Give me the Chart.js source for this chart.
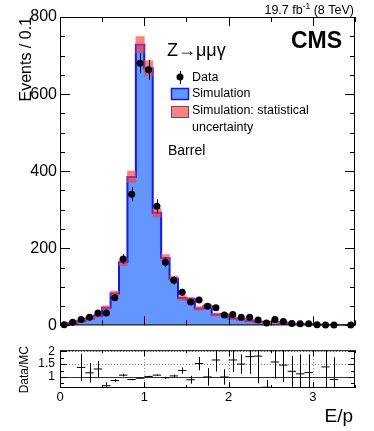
<!DOCTYPE html>
<html>
<head>
    <title>E/p barrel - Z to mu mu gamma</title>
    <meta charset="utf-8" />
    <script src="https://cdn.jsdelivr.net/npm/chart.js@4.4.1/dist/chart.umd.min.js"></script>
    <style>
        body { margin: 0; background: #fff; }
        #wrap { position: relative; width: 374px; height: 431px; }
        #main { position: absolute; left: 0; top: 0; }
        #ratio { position: absolute; left: 0; top: 338px; }
    </style>
</head>
<body>

<div id="wrap">
    <canvas id="main" width="374" height="338"></canvas>
    <canvas id="ratio" width="374" height="93"></canvas>
</div>

<script>
    // bins of 0.1 in E/p
    var binEdges = [0.0, 0.1, 0.2, 0.3, 0.4, 0.5, 0.6, 0.7, 0.8, 0.9, 1.0, 1.1, 1.2, 1.3, 1.4, 1.5, 1.6, 1.7,
                    1.8, 1.9, 2.0, 2.1, 2.2, 2.3, 2.4, 2.5, 2.6, 2.7, 2.8, 2.9, 3.0, 3.1, 3.2, 3.3, 3.4, 3.5];

    // data (black points) and its error
    var dataCounts = [2, 8, 15, 21, 32, 32, 72, 172, 340, 680, 663, 309, 164, 117, 86, 61, 66, 50,
                      46, 27, 28, 21, 21, 14, 6, 15, 10, 5, 4, 4, 2, 1, 1, null, 1];
    var dataErr = [2, 3, 4, 5, 6, 6, 8, 13, 18, 26, 26, 18, 13, 11, 9, 8, 8, 7,
                   7, 5, 5, 5, 5, 4, 3, 4, 3, 2, 2, 2, 1, 1, 1, 0, 1];

    // simulation and its statistical uncertainty
    var mcCounts = [2, 6, 11, 18, 25, 46, 83, 164, 385, 728, 667, 292, 175, 121, 71, 68, 44, 50,
                    28, 27, 18, 15, 12, 9, 9, 9, 7, 4, 3.6, 3.4, 1.5, 1, 1.1, 0.5, 0.3];
    var mcErr = [2, 3, 3, 4, 4, 5, 6, 9, 15, 21, 20, 11, 9, 7, 6, 5, 5, 5,
                 4, 4, 3, 3, 3, 3, 3, 3, 2, 2, 2, 2, 2, 2, 2, 2, 2];

    // Data/MC panel
    var ratioVals = [null, null, 1.37, 1.16, 1.31, 0.66, 0.86, 1.07, 0.90, 0.95, 1.02, 1.07, 0.97, 1.04, 1.25, 0.89, 1.52, 1.00,
                     1.66, 1.00, 1.66, 1.50, 1.79, 1.81, 0.60, 1.58, 1.46, 1.22, 1.12, 1.17, null, 1.39, 0.90, null, null];
    var ratioErr = [0, 0, 0.53, 0.38, 0.31, 0.13, 0.06, 0.05, 0.03, 0.02, 0.02, 0.03, 0.04, 0.05, 0.12, 0.15, 0.26, 0.34,
                    0.45, 0.30, 0.47, 0.38, 0.67, 1.06, 0.28, 0.64, 0.65, 0.60, 0.76, 0.71, 0, 1.5, 0.87, 0, 0];

    var yMainTicks = [0, 200, 400, 600, 800];
    var yRatioTicks = [1, 1.5, 2];
    var xRatioTicks = [0, 1, 2, 3];

    var FONT = '"Liberation Sans", Arial, Helvetica, sans-serif';
    Chart.defaults.font.family = FONT;
    Chart.defaults.color = '#000';

    var MC_FILL = 'rgb(100,150,255)';
    var MC_LINE = 'rgb(20,20,255)';
    var BAND = 'rgba(255,60,60,0.65)';

    function center(i) { return (binEdges[i] + binEdges[i + 1]) / 2; }

    // step outline points for the simulation histogram
    var mcStep = [{x: binEdges[0], y: 0}];
    mcCounts.forEach(function (v, i) { mcStep.push({x: binEdges[i], y: v}); });
    mcStep.push({x: binEdges[binEdges.length - 1], y: mcCounts[mcCounts.length - 1]});
    mcStep.push({x: binEdges[binEdges.length - 1], y: 0});

    var mcBand = mcCounts.map(function (v, i) { return {x: center(i), y: [v - mcErr[i], v + mcErr[i]]}; });
    var dataPts = [];
    dataCounts.forEach(function (v, i) { if (v !== null) dataPts.push({x: center(i), y: v, e: dataErr[i]}); });
    var ratioPts = [];
    ratioVals.forEach(function (v, i) { if (v !== null) ratioPts.push({x: center(i), y: v, e: ratioErr[i]}); });

    function ticksX(ctx, x, a, step, from, to, lenMaj, lenMin) {
        for (var v = from; v <= to + 1e-9; v += step) {
            var px = Math.round(x.getPixelForValue(v)) + 0.5;
            var len = Math.abs(v - Math.round(v)) < 1e-6 ? lenMaj : lenMin;
            ctx.moveTo(px, a.bottom); ctx.lineTo(px, a.bottom - len);
            ctx.moveTo(px, a.top); ctx.lineTo(px, a.top + len);
        }
    }

    var mainDecor = {
        id: 'mainDecor',
        afterDatasetsDraw: function (chart) {
            var ctx = chart.ctx, a = chart.chartArea, x = chart.scales.x, y = chart.scales.y;
            ctx.save();
            ctx.strokeStyle = '#000';
            ctx.lineWidth = 1;
            // data error bars
            ctx.beginPath();
            dataPts.forEach(function (p) {
                var px = Math.round(x.getPixelForValue(p.x)) + 0.5;
                ctx.moveTo(px, y.getPixelForValue(p.y - p.e));
                ctx.lineTo(px, y.getPixelForValue(p.y + p.e));
            });
            ctx.stroke();
            // frame + inward ticks
            ctx.strokeRect(a.left + 0.5, a.top + 0.5, a.right - a.left - 1, a.bottom - a.top - 1);
            ctx.beginPath();
            for (var v = 0; v <= 800; v += 50) {
                var py = Math.round(y.getPixelForValue(v)) + 0.5;
                var len = v % 200 === 0 ? 10 : 5;
                ctx.moveTo(a.left, py); ctx.lineTo(a.left + len, py);
                ctx.moveTo(a.right, py); ctx.lineTo(a.right - len, py);
            }
            ticksX(ctx, x, a, 0.5, 0, 3.5, 9, 5);
            ctx.stroke();
            ctx.restore();
        },
        afterDraw: function (chart) {
            var ctx = chart.ctx;
            ctx.save();
            ctx.fillStyle = '#000';
            ctx.textBaseline = 'alphabetic';

            // lumi label
            var p1 = '19.7 fb', sup = '-1', p2 = ' (8 TeV)';
            ctx.font = '12.5px ' + FONT;
            var w1 = ctx.measureText(p1).width, w3 = ctx.measureText(p2).width;
            ctx.font = '8.5px ' + FONT;
            var w2 = ctx.measureText(sup).width;
            var lx = 354 - (w1 + w2 + w3);
            ctx.font = '12.5px ' + FONT;
            ctx.fillText(p1, lx, 14);
            ctx.fillText(p2, lx + w1 + w2, 14);
            ctx.font = '8.5px ' + FONT;
            ctx.fillText(sup, lx + w1, 9);

            ctx.font = 'bold 23px ' + FONT;
            ctx.textAlign = 'right';
            ctx.fillText('CMS', 342, 48);

            ctx.textAlign = 'left';
            ctx.font = '18px ' + FONT;
            ctx.fillText('Z\u2192\u03bc\u03bc\u03b3', 167, 56);

            // legend
            ctx.beginPath();
            ctx.arc(180, 77, 3.5, 0, Math.PI * 2);
            ctx.fill();
            ctx.beginPath();
            ctx.moveTo(180.5, 71); ctx.lineTo(180.5, 84);
            ctx.lineWidth = 1; ctx.strokeStyle = '#000'; ctx.stroke();

            ctx.fillStyle = MC_FILL;
            ctx.fillRect(171, 88, 18, 12);
            ctx.strokeStyle = MC_LINE; ctx.lineWidth = 1.5;
            ctx.strokeRect(171.5, 88.5, 17, 11);

            ctx.fillStyle = BAND;
            ctx.fillRect(171, 106, 18, 12);
            ctx.strokeStyle = '#7a4a4a'; ctx.lineWidth = 1;
            ctx.strokeRect(171.5, 106.5, 17, 11);

            ctx.fillStyle = '#000';
            ctx.font = '12.5px ' + FONT;
            ctx.textBaseline = 'middle';
            ctx.fillText('Data', 192, 78);
            ctx.fillText('Simulation', 192, 94);
            ctx.fillText('Simulation: statistical', 192, 111);
            ctx.fillText('uncertainty', 192, 128);

            ctx.textBaseline = 'alphabetic';
            ctx.font = '14px ' + FONT;
            ctx.fillText('Barrel', 168, 155);

            // y title
            ctx.font = '16px ' + FONT;
            ctx.translate(31, 17);
            ctx.rotate(-Math.PI / 2);
            ctx.textAlign = 'right';
            ctx.fillText('Events / 0.1', 0, 0);
            ctx.restore();
        }
    };

    var mainChart = new Chart(document.getElementById('main'), {
        type: 'line',
        data: {
            datasets: [{
                type: 'line',
                data: mcStep,
                stepped: 'before',
                fill: 'origin',
                backgroundColor: MC_FILL,
                borderColor: MC_LINE,
                borderWidth: 2,
                pointRadius: 0,
                order: 3
            }, {
                type: 'bar',
                data: mcBand,
                backgroundColor: BAND,
                borderWidth: 0,
                barPercentage: 1,
                categoryPercentage: 1,
                grouped: false,
                order: 2
            }, {
                type: 'scatter',
                data: dataPts,
                pointRadius: 3.5,
                pointBackgroundColor: '#000',
                pointBorderWidth: 0,
                clip: 6,
                order: 1
            }]
        },
        options: {
            responsive: false,
            animation: false,
            events: [],
            layout: { padding: { left: 0, top: 17, right: 19, bottom: 11 } },
            plugins: { legend: { display: false }, tooltip: { enabled: false } },
            scales: {
                // the bar dataset would otherwise switch on the category-style half-bin offset
                x: { type: 'linear', min: 0, max: 3.5, offset: false, grid: { offset: false }, display: false },
                y: {
                    min: 0, max: 800,
                    grid: { display: false, drawTicks: false },
                    border: { display: false },
                    afterBuildTicks: function (s) { s.ticks = yMainTicks.map(function (v) { return {value: v}; }); },
                    afterFit: function (s) { s.width = 60; },
                    ticks: { font: { size: 16 }, padding: 3, color: '#000' }
                }
            }
        },
        plugins: [mainDecor]
    });

    var ratioDecor = {
        id: 'ratioDecor',
        beforeDatasetsDraw: function (chart) {
            var ctx = chart.ctx, a = chart.chartArea, x = chart.scales.x, y = chart.scales.y;
            ctx.save();
            ctx.lineWidth = 1;
            ctx.strokeStyle = '#888';
            ctx.setLineDash([1, 2]);
            ctx.beginPath();
            [1.5, 2].forEach(function (v) {
                var py = Math.round(y.getPixelForValue(v)) + 0.5;
                ctx.moveTo(a.left, py); ctx.lineTo(a.right, py);
            });
            [1, 2, 3].forEach(function (v) {
                var px = Math.round(x.getPixelForValue(v)) + 0.5;
                ctx.moveTo(px, a.top); ctx.lineTo(px, a.bottom);
            });
            ctx.stroke();
            ctx.setLineDash([]);
            ctx.strokeStyle = '#333';
            ctx.beginPath();
            var p1 = Math.round(y.getPixelForValue(1)) + 0.5;
            ctx.moveTo(a.left, p1); ctx.lineTo(a.right, p1);
            ctx.stroke();
            ctx.restore();
        },
        afterDatasetsDraw: function (chart) {
            var ctx = chart.ctx, a = chart.chartArea, x = chart.scales.x, y = chart.scales.y;
            ctx.save();
            ctx.lineWidth = 1;
            ctx.strokeStyle = '#000';
            ctx.beginPath();
            ctx.rect(a.left, a.top, a.right - a.left, a.bottom - a.top);
            ctx.clip();
            ctx.beginPath();
            ratioPts.forEach(function (p) {
                var px = Math.round(x.getPixelForValue(p.x)) + 0.5;
                ctx.moveTo(px, y.getPixelForValue(p.y - p.e));
                ctx.lineTo(px, y.getPixelForValue(p.y + p.e));
            });
            ctx.stroke();
            ctx.restore();

            ctx.save();
            ctx.strokeStyle = '#000';
            ctx.lineWidth = 1;
            ctx.strokeRect(a.left + 0.5, a.top + 0.5, a.right - a.left - 1, a.bottom - a.top - 1);
            ctx.beginPath();
            for (var v = 0.75; v <= 2.0 + 1e-9; v += 0.25) {
                var py = Math.round(y.getPixelForValue(v)) + 0.5;
                var len = Math.abs(v * 2 - Math.round(v * 2)) < 1e-6 ? 7 : 4;
                ctx.moveTo(a.left, py); ctx.lineTo(a.left + len, py);
                ctx.moveTo(a.right, py); ctx.lineTo(a.right - len, py);
            }
            ticksX(ctx, x, a, 0.5, 0, 3.5, 6, 3);
            ctx.stroke();
            ctx.restore();
        },
        afterDraw: function (chart) {
            var ctx = chart.ctx;
            ctx.save();
            ctx.fillStyle = '#000';
            ctx.font = '19px ' + FONT;
            ctx.textAlign = 'right';
            ctx.textBaseline = 'alphabetic';
            ctx.fillText('E/p', 353, 84);
            ctx.font = '12px ' + FONT;
            ctx.translate(28, 8);
            ctx.rotate(-Math.PI / 2);
            ctx.fillText('Data/MC', 0, 0);
            ctx.restore();
        }
    };

    var ratioChart = new Chart(document.getElementById('ratio'), {
        type: 'scatter',
        data: {
            datasets: [{
                data: ratioPts,
                pointStyle: 'line',
                pointRadius: 4.2,
                pointBorderWidth: 1,
                pointBorderColor: '#000'
            }]
        },
        options: {
            responsive: false,
            animation: false,
            events: [],
            layout: { padding: { left: 0, top: 11, right: 19, bottom: 0 } },
            plugins: { legend: { display: false }, tooltip: { enabled: false } },
            scales: {
                x: {
                    type: 'linear', min: 0, max: 3.5,
                    grid: { display: false, drawTicks: false },
                    border: { display: false },
                    afterBuildTicks: function (s) { s.ticks = xRatioTicks.map(function (v) { return {value: v}; }); },
                    afterFit: function (s) { s.height = 43; },
                    ticks: { font: { size: 13 }, padding: 2, autoSkip: false, maxRotation: 0,
                             callback: function (v) { return String(v); } }
                },
                y: {
                    min: 0.57, max: 2.04,
                    grid: { display: false, drawTicks: false },
                    border: { display: false },
                    afterBuildTicks: function (s) { s.ticks = yRatioTicks.map(function (v) { return {value: v}; }); },
                    afterFit: function (s) { s.width = 60; },
                    ticks: { font: { size: 12 }, padding: 5, callback: function (v) { return String(v); } }
                }
            }
        },
        plugins: [ratioDecor]
    });
</script>

</body>
</html>
